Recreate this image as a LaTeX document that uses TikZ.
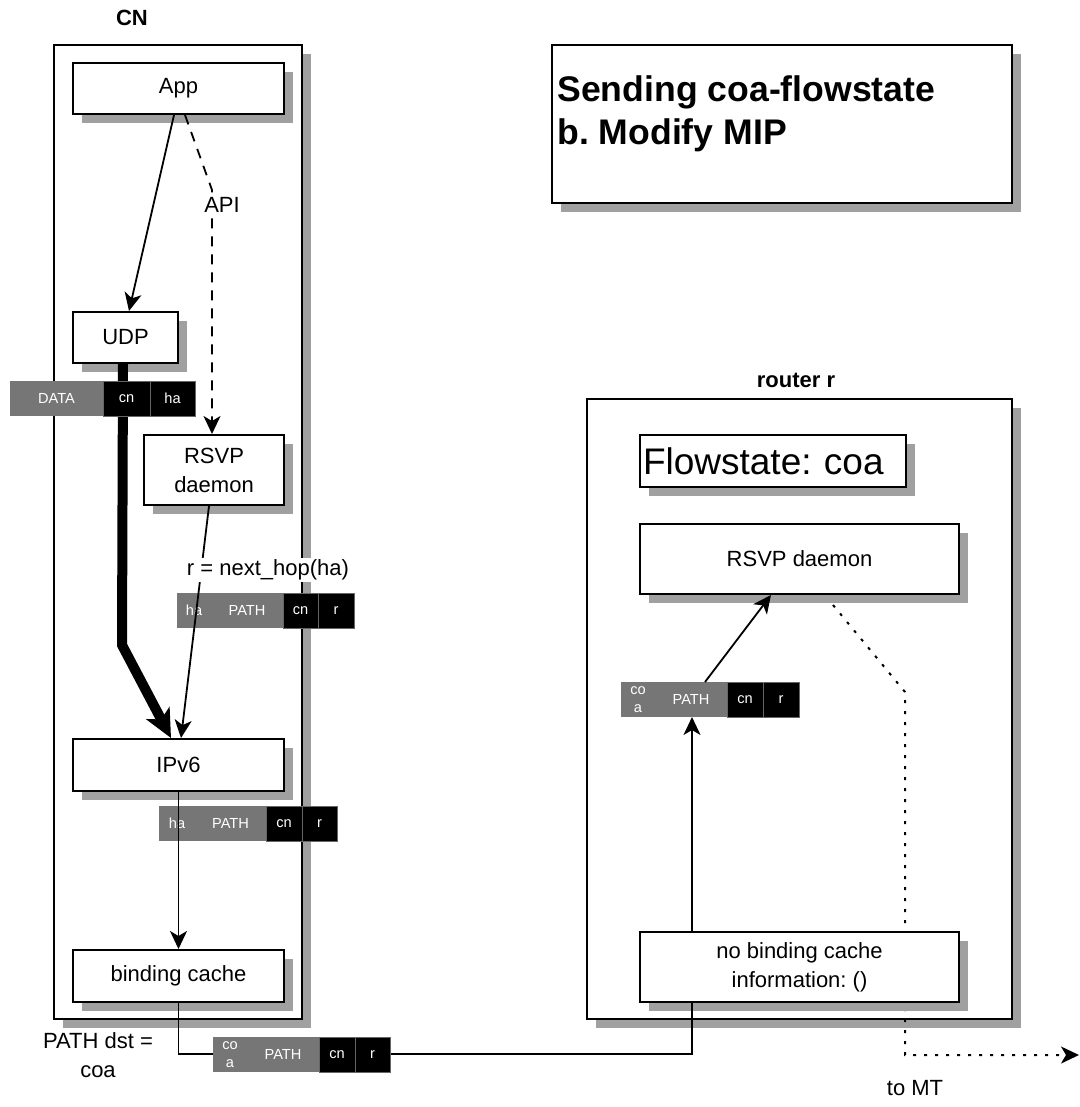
\documentclass[tikz,border=0pt]{standalone}
\usepackage{fontspec}
\setmainfont{Liberation Sans}
\frenchspacing
\usetikzlibrary{arrows.meta, positioning, shadows, calc}
\definecolor{shadowgray}{HTML}{A0A0A0}
\definecolor{pathgray}{HTML}{767676}
\tikzset{%
	box/.style={draw, line width=1pt, fill=white, inner sep=0pt, align=center, anchor=north west,%
		drop shadow={shadow xshift=4.5pt, shadow yshift=-4.5pt, fill=shadowgray, opacity=1}},
	hdr/.style={font=\fontsize{11}{13}\selectfont\bfseries},
	cell/.style={minimum height=17.5pt, inner sep=0pt, outer sep=0pt, text=white,%
		font=\fontsize{7.3}{9}\selectfont, align=center},
	pg/.style={cell, fill=pathgray},
	pb/.style={cell, fill=black, draw=black!60, line width=0.4pt},
	sig/.style={line width=0.9pt, -{Stealth[length=9pt, width=8.5pt, inset=2.5pt]}},
	wire/.style={line width=0.9pt},
	ctrl/.style={sig, dash pattern=on 5pt off 4pt},
	bulk/.style={line width=5pt, -{Stealth[length=14pt, width=13pt, inset=3.5pt]}},
	tomt/.style={line width=1pt, dash pattern=on 1.5pt off 4pt,%
		-{Stealth[length=9pt, width=8.5pt, inset=2.5pt]}},
	hint/.style={fill=white, inner sep=1pt}
}

\begin{document}
\begin{tikzpicture}[x=0.5pt, y=-0.5pt, font=\fontsize{11}{14.5}\selectfont]
	\useasboundingbox (0,0) rectangle (1080,1107);

	% the two hosts and the heading
	\node[hdr] (cnname) at (132,18) {CN};
	\node[box, minimum width=124pt, minimum height=487pt] (cn) at (53,44) {};
	\node[hdr] (rname) at (796,380) {router r};
	\node[box, minimum width=212.5pt, minimum height=310pt] (router) at (586,398) {};
	\node[box, minimum width=230pt, minimum height=79pt] (head) at (551,44) {};
	\node[anchor=north west, align=left, inner sep=0pt,%
		font=\fontsize{17.8}{21.5}\selectfont\bfseries] (headtxt) at (557,75)
		{Sending coa-flowstate\\b. Modify MIP};

	% CN stack
	\node[box, minimum width=105.5pt, minimum height=25.5pt] (app) at (72,62) {App};
	\node[box, minimum width=52.5pt, minimum height=25.5pt] (udp) at (72,311) {UDP};
	\node[box, minimum width=70pt, minimum height=35pt] (rsvp) at (143,434) {RSVP\\daemon};
	\node[box, minimum width=105.5pt, minimum height=26pt] (ipv6) at (72,738) {IPv6};
	\node[box, minimum width=105.5pt, minimum height=26pt] (cache) at (72,949) {binding cache};

	% router r
	\node[box, text width=130pt, inner xsep=1.5pt, minimum height=26pt, align=left,%
		font=\fontsize{18.5}{22}\selectfont] (flow) at (639,434) {Flowstate: coa};
	\node[box, minimum width=159.5pt, minimum height=35pt] (rsvpr) at (639,523) {RSVP daemon};

	\coordinate (mt1) at (905,692);
	\coordinate (mt2) at (905,1055);
	\coordinate (mtend) at (1079,1055);
	\draw[tomt] ([xshift=16.75pt,yshift=-5pt]rsvpr.south) -- (mt1) -- (mt2) -- (mtend);

	\node[box, minimum width=159.5pt, minimum height=35pt] (nocache) at (639,931)
		{no binding cache\\information: ()};

	% wire from CN to r, and the data path down the stack
	\coordinate (hop) at (692,1054);
	\draw[wire] (cache.south) |- (hop) -- (hop |- nocache.south);
	\coordinate (kink) at (122,645);
	\draw[bulk] ([xshift=-1.25pt]udp.south) -- (kink) -- ([xshift=-3.75pt]ipv6.north);

	% packets
	\node[pg, minimum width=46.5pt, anchor=north west] (d1) at (10,381) {DATA};
	\node[pb, minimum width=23.5pt, right=0pt of d1] (d2) {cn};
	\node[pb, minimum width=22.5pt, right=0pt of d2] (d3) {ha};

	\node[pg, minimum width=17pt, anchor=north west] (q1) at (177,593) {ha};
	\node[pg, minimum width=36pt, right=0pt of q1] (q2) {PATH};
	\node[pb, minimum width=17.5pt, right=0pt of q2] (q3) {cn};
	\node[pb, minimum width=18pt, right=0pt of q3] (q4) {r};

	\node[pg, minimum width=18pt, anchor=north west] (s1) at (159,806) {ha};
	\node[pg, minimum width=35.5pt, right=0pt of s1] (s2) {PATH};
	\node[pb, minimum width=18pt, right=0pt of s2] (s3) {cn};
	\node[pb, minimum width=17.5pt, right=0pt of s3] (s4) {r};

	\node[pg, minimum width=17pt, anchor=north west] (w1) at (213,1037) {co\\a};
	\node[pg, minimum width=36pt, right=0pt of w1] (w2) {PATH};
	\node[pb, minimum width=18pt, right=0pt of w2] (w3) {cn};
	\node[pb, minimum width=17.5pt, right=0pt of w3] (w4) {r};

	\node[pg, minimum width=17pt, anchor=north west] (v1) at (621,682) {co\\a};
	\node[pg, minimum width=36pt, right=0pt of v1] (v2) {PATH};
	\node[pb, minimum width=18pt, right=0pt of v2] (v3) {cn};
	\node[pb, minimum width=18pt, right=0pt of v3] (v4) {r};

	% signalling inside CN
	\draw[sig] ([xshift=-2.25pt]app.south) -- ([xshift=1.75pt]udp.north);
	\coordinate (apibend) at (212,190);
	\draw[ctrl] ([xshift=3.25pt]app.south) -- (apibend) -- (apibend |- rsvp.north);
	\draw[sig] ([xshift=-2.5pt]rsvp.south) -- ([xshift=1.25pt]ipv6.north);
	\draw[sig] (ipv6.south) -- (cache.north);

	% signalling inside r
	\draw[sig] (hop |- nocache.north) -- (hop |- v2.south);
	\draw[sig] ([xshift=7pt]v2.north) -- ([xshift=-14.25pt]rsvpr.south);

	% labels
	\node[hint] (api) at (222,205) {API};
	\node[hint] (nexthop) at (268,570) {r = next\_hop(ha)};
	\node[align=center] (dst) at (98,1055) {PATH dst =\\coa};
	\node (mtname) at (915,1088) {to MT};
\end{tikzpicture}
\end{document}
